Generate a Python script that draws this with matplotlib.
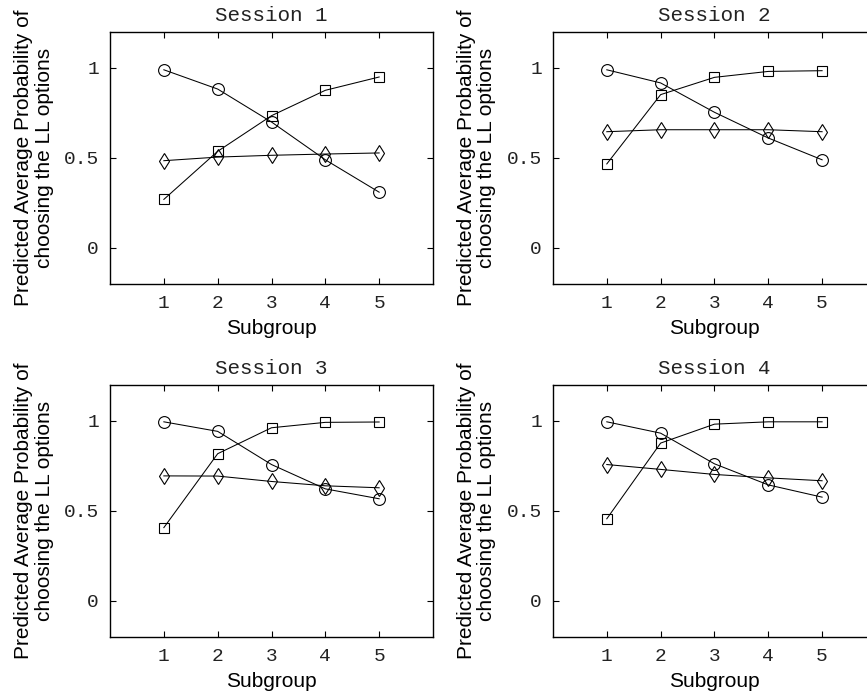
import numpy as np
import matplotlib
matplotlib.use("Agg")
import matplotlib.pyplot as plt

# subgroup index on the x axis
subgroups = [1, 2, 3, 4, 5]
sessions = ["Session 1", "Session 2", "Session 3", "Session 4"]

# predicted probabilities, one list per session
circle_vals = [
    [0.99, 0.883, 0.70, 0.49, 0.31],
    [0.99, 0.917, 0.754, 0.611, 0.49],
    [0.994, 0.941, 0.757, 0.622, 0.567],
    [0.994, 0.931, 0.761, 0.644, 0.576],
]
square_vals = [
    [0.27, 0.537, 0.735, 0.876, 0.95],
    [0.467, 0.852, 0.948, 0.981, 0.985],
    [0.407, 0.817, 0.961, 0.991, 0.993],
    [0.456, 0.876, 0.981, 0.994, 0.994],
]
diamond_vals = [
    [0.485, 0.505, 0.515, 0.522, 0.528],
    [0.646, 0.657, 0.657, 0.657, 0.646],
    [0.694, 0.693, 0.663, 0.639, 0.628],
    [0.757, 0.730, 0.702, 0.683, 0.667],
]

mono = "Liberation Mono"
sans = "Liberation Sans"
ylab = "Predicted Average Probability of\nchoosing the LL options"
txt = "#222222"

fig = plt.figure(figsize=(8.67, 6.94), dpi=100)

# axes boxes in figure fractions (left, bottom, width, height)
boxes = [
    (0.1269, 0.5908, 0.3725, 0.3631),
    (0.6378, 0.5908, 0.3725, 0.3631),
    (0.1269, 0.0821, 0.3725, 0.3636),
    (0.6378, 0.0821, 0.3725, 0.3636),
]

for i, box in enumerate(boxes):
    ax = fig.add_axes(box)
    ax.plot(subgroups, circle_vals[i], color="black", lw=0.75, marker="o",
            ms=8.5, mfc="none", mec="black", mew=0.8)
    ax.plot(subgroups, square_vals[i], color="black", lw=0.75, marker="s",
            ms=7.5, mfc="none", mec="black", mew=0.8)
    ax.plot(subgroups, diamond_vals[i], color="black", lw=0.75, marker="d",
            ms=8.2, mfc="none", mec="black", mew=0.8)

    ax.set_xlim(0, 6)
    ax.set_ylim(-0.2, 1.2)
    ax.set_xticks(subgroups)
    ax.set_yticks([0, 0.5, 1])
    ax.set_yticklabels(["0", "0.5", "1"])
    ax.tick_params(direction="in", top=True, right=True, length=4, width=0.8,
                   labelsize=14, pad=8, labelcolor=txt)
    for lbl in ax.get_xticklabels() + ax.get_yticklabels():
        lbl.set_fontfamily(mono)
    for sp in ax.spines.values():
        sp.set_linewidth(1.0)

    ax.set_title(sessions[i], fontfamily=mono, fontsize=15, pad=8, color=txt)
    ax.set_xlabel("Subgroup", fontfamily=sans, fontsize=15, labelpad=5)
    ax.set_ylabel(ylab, fontfamily=sans, fontsize=15, linespacing=1.1)
    ax.yaxis.set_label_coords(-0.175, 0.5)

fig.savefig("out.png", dpi=100)
